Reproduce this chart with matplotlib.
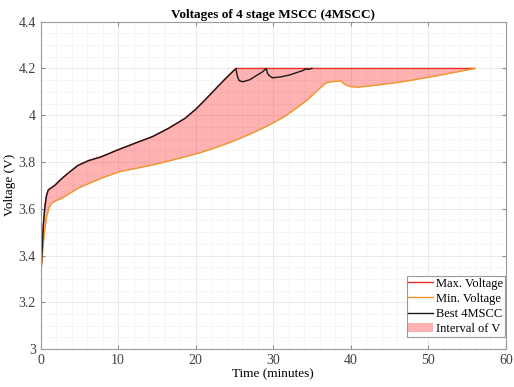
import matplotlib.pyplot as plt
import numpy as np
from matplotlib.ticker import MultipleLocator

plt.rcParams['font.family'] = ['Liberation Serif', 'DejaVu Serif']

# Max. Voltage (upper edge)
t_max = [0, 0.1, 0.2, 0.35, 0.55, 0.75, 0.98, 1.4, 1.83, 2.6, 3.5, 4.8, 6.2, 7.8, 9.9,
         12.0, 14.4, 16.5, 18.6, 20.0, 21.2, 22.5, 23.8, 25.2, 30, 35, 40, 45, 50, 56]
v_max = [3.287, 3.36, 3.42, 3.53, 3.608, 3.655, 3.68, 3.69, 3.70, 3.725, 3.751, 3.785, 3.806, 3.822, 3.851,
         3.878, 3.908, 3.944, 3.986, 4.025, 4.065, 4.11, 4.155, 4.2, 4.2, 4.2, 4.2, 4.2, 4.2, 4.2]

# Min. Voltage (lower edge)
t_min = [0, 0, 0.05, 0.2, 0.45, 0.77, 1.1, 1.4, 2.0, 2.7, 3.7, 4.8, 6.2, 7.8, 10.1, 12.2, 14.4,
         16.5, 18.6, 20.8, 22.9, 25.0, 27.2, 29.3, 31.4, 32.9, 34.4, 35.2, 36.0, 36.8, 37.5, 38.3,
         38.7, 39.3, 40.0, 41.0, 43.0, 46.7, 51.0, 56.0]
v_min = [3.2, 3.28, 3.33, 3.394, 3.49, 3.565, 3.605, 3.623, 3.635, 3.644, 3.665, 3.687, 3.708, 3.73, 3.758, 3.772, 3.787,
         3.804, 3.822, 3.842, 3.865, 3.891, 3.922, 3.955, 3.993, 4.028, 4.065, 4.09, 4.115, 4.138, 4.143, 4.145,
         4.146, 4.13, 4.122, 4.12, 4.127, 4.143, 4.168, 4.2]

# Best 4MSCC
t_best = t_max[:24] + [25.35, 25.6, 26.1, 27.0, 27.8, 28.6, 29.1, 29.25, 29.5, 29.9, 31.0, 32.1,
                       33.0, 33.75, 34.2, 34.5, 35.0]
v_best = v_max[:24] + [4.17, 4.148, 4.143, 4.152, 4.169, 4.185, 4.2, 4.18, 4.169, 4.16, 4.164, 4.172,
                       4.182, 4.19, 4.198, 4.196, 4.2]

fig = plt.figure(figsize=(5.14, 3.87), dpi=100)
ax = fig.add_axes([0.079, 0.098, 0.905, 0.846])

tf = np.linspace(0, 56, 2000)
ax.fill_between(tf, np.interp(tf, t_min[1:], v_min[1:]), np.interp(tf, t_max, v_max),
                color='red', alpha=0.3, linewidth=0, label='Interval of V')
ax.plot(t_max, v_max, color='#e8302a', lw=1.0, label='Max. Voltage')
ax.plot(t_min, v_min, color='#f0962a', lw=1.0, label='Min. Voltage')
ax.plot(t_best, v_best, color='#1a1a1a', lw=1.0, label='Best 4MSCC')

ax.set_xlim(0, 60)
ax.set_ylim(3, 4.4)
ax.xaxis.set_major_locator(MultipleLocator(10))
ax.xaxis.set_minor_locator(MultipleLocator(2))
ax.yaxis.set_minor_locator(MultipleLocator(0.05))
ax.set_yticks([3, 3.2, 3.4, 3.6, 3.8, 4, 4.2, 4.4])
ax.set_yticklabels(['3', '3.2', '3.4', '3.6', '3.8', '4', '4.2', '4.4'])
ax.grid(which='major', color='#e6e6e6', lw=0.6)
ax.grid(which='minor', color='#f2f2f2', lw=0.5)
ax.set_axisbelow(True)
ax.tick_params(which='major', direction='in', top=True, right=True, length=3,
               labelsize=10, colors='#8c8c8c', labelcolor='#404040')
ax.tick_params(which='minor', length=0)
for s in ax.spines.values():
    s.set_color('#9a9a9a')
    s.set_linewidth(0.8)

ax.set_title('Voltages of 4 stage MSCC (4MSCC)', fontsize=9.5, fontweight='bold', pad=3)
ax.set_xlabel('Time (minutes)', fontsize=9.5, labelpad=1)
ax.set_ylabel('Voltage (V)', fontsize=9.5, labelpad=2)

h, l = ax.get_legend_handles_labels()
order = [1, 2, 3, 0]
leg = ax.legend([h[i] for i in order], [l[i] for i in order], loc='lower right',
                bbox_to_anchor=(0.998, 0.037), fontsize=9, frameon=True, fancybox=False,
                edgecolor='#9a9a9a', framealpha=1, handlelength=2.0, handletextpad=0.2,
                borderpad=0.15, labelspacing=0.25, borderaxespad=0)
leg.get_frame().set_linewidth(0.8)

fig.savefig('out.png', dpi=100)
